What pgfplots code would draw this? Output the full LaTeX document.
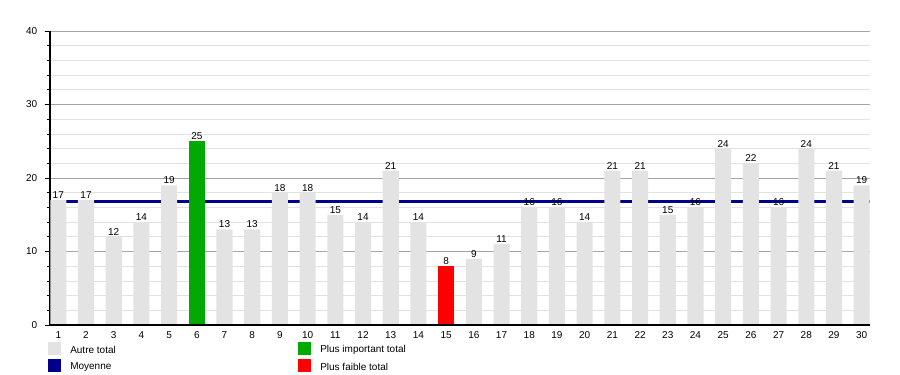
\documentclass[border=0pt]{standalone}
\usepackage{pgfplots}
\pgfplotsset{compat=1.18}
\usepackage{fontspec}
\setmainfont{Liberation Sans}
\definecolor{autre}{RGB}{227,227,227}
\definecolor{maxc}{RGB}{0,170,0}
\definecolor{minc}{RGB}{255,0,0}
\definecolor{moy}{RGB}{0,0,140}
\definecolor{majgrid}{RGB}{165,165,165}
\definecolor{mingrid}{RGB}{226,226,226}
\begin{document}
\begin{tikzpicture}
\path[use as bounding box] (0,0) rectangle (675pt,281.25pt);
\begin{axis}[
  at={(37.5pt,37.5pt)}, anchor=south west,
  width=615pt, height=220.5pt, scale only axis,
  xmin=0.7, xmax=30.3, ymin=0, ymax=40,
  ytick={0,10,20,30,40}, minor ytick={2,4,6,8,12,14,16,18,22,24,26,28,32,34,36,38},
  ymajorgrids, yminorgrids,
  major grid style={majgrid, line width=0.6pt},
  minor grid style={mingrid, line width=0.6pt},
  axis x line*=bottom, axis y line*=left,
  axis line style={-, black, line width=0.75pt},
  xtick={1,...,30}, x tick style={draw=none},
  y tick style={black, line width=0.5pt},
  tick align=outside, major tick length=4pt, minor tick length=2.5pt,
  tick label style={font=\fontsize{7.5}{9}\selectfont},
  x tick label style={yshift=2.5pt},
  y tick label style={xshift=-2pt},
  /pgf/number format/assume math mode=true,
  clip=false,
]
\addplot[moy, line width=2.3pt, forget plot] coordinates {(0.75,16.77) (30.3,16.77)};
\addplot[ybar, bar width=0.58, bar shift=0pt, fill=autre, draw=none,
  nodes near coords, every node near coord/.append style={font=\fontsize{7.5}{9}\selectfont, black, inner sep=1pt}]
 coordinates {(1,17) (2,17) (3,12) (4,14) (5,19) (7,13) (8,13) (9,18) (10,18) (11,15) (12,14) (13,21) (14,14) (16,9) (17,11) (18,16) (19,16) (20,14) (21,21) (22,21) (23,15) (24,16) (25,24) (26,22) (27,16) (28,24) (29,21) (30,19)};
\addplot[ybar, bar width=0.58, bar shift=0pt, fill=maxc, draw=none,
  nodes near coords, every node near coord/.append style={font=\fontsize{7.5}{9}\selectfont, black, inner sep=1pt}]
 coordinates {(6,25)};
\addplot[ybar, bar width=0.58, bar shift=0pt, fill=minc, draw=none,
  nodes near coords, every node near coord/.append style={font=\fontsize{7.5}{9}\selectfont, black, inner sep=1pt}]
 coordinates {(15,8)};
\addplot[black, line width=0.75pt, forget plot] coordinates {(0.7,0) (30.3,0)};
\end{axis}
% legend
\fill[autre] (36.2pt,15pt) rectangle (45.75pt,24.5pt);
\node[anchor=west, inner sep=0pt, font=\fontsize{7.5}{9}\selectfont] at (52.5pt,18.75pt) {Autre total};
\fill[moy] (36.2pt,2.25pt) rectangle (45.75pt,11.75pt);
\node[anchor=west, inner sep=0pt, font=\fontsize{7.5}{9}\selectfont] at (52.5pt,6pt) {Moyenne};
\fill[maxc] (223.7pt,15pt) rectangle (233.25pt,24.5pt);
\node[anchor=west, inner sep=0pt, font=\fontsize{7.5}{9}\selectfont] at (240pt,18.75pt) {Plus important total};
\fill[minc] (223.7pt,2.25pt) rectangle (233.25pt,11.75pt);
\node[anchor=west, inner sep=0pt, font=\fontsize{7.5}{9}\selectfont] at (240pt,6pt) {Plus faible total};
\end{tikzpicture}
\end{document}
